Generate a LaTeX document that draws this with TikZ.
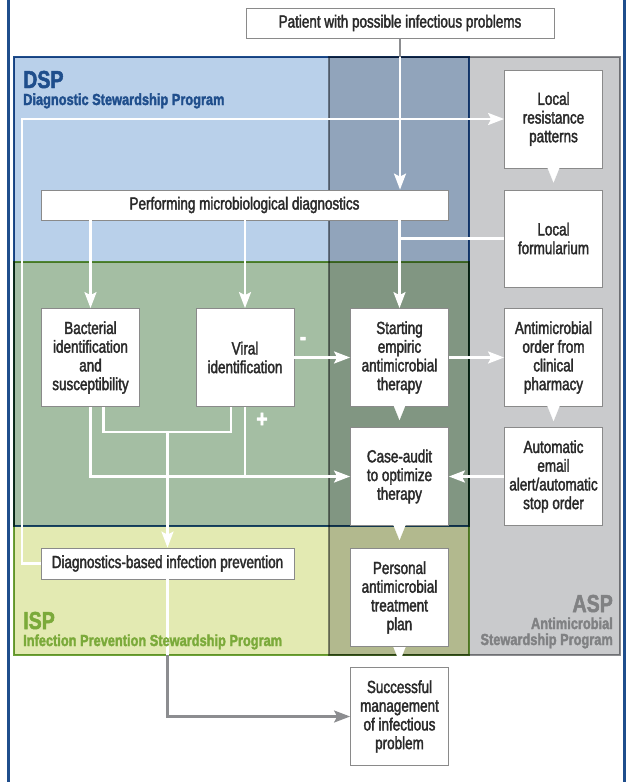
\documentclass[tikz,border=0pt]{standalone}
\usepackage{fontspec}
\setmainfont{Liberation Sans}[FakeStretch=0.77, FakeBold=2]
\newfontfamily\headfont{Liberation Sans}[FakeStretch=0.8, FakeBold=2]
\usetikzlibrary{arrows.meta}
\definecolor{dspfill}{HTML}{B9D0EA}
\definecolor{ispfill}{HTML}{E3EAB2}
\definecolor{aspfill}{HTML}{C9CACC}
\definecolor{dspline}{HTML}{1F4E8C}
\definecolor{ispline}{HTML}{6EA23A}
\definecolor{aspline}{HTML}{8C8D90}
\definecolor{boxline}{HTML}{8A8A8A}
\definecolor{boxtext}{HTML}{2A2A2A}
\definecolor{isptext}{HTML}{7BAA3A}
\definecolor{asptext}{HTML}{808183}
\begin{document}
\begin{tikzpicture}[x=1pt,y=-1pt]
\tikzstyle{box} = [draw=boxline, fill=white, line width=0.8pt, align=center, text=boxtext, inner sep=1pt, font=\fontsize{17.5}{18.7}\selectfont] % white box
\tikzstyle{smallbox} = [box, minimum width=98pt, minimum height=98pt] % square box
\tikzstyle{widebox} = [box, minimum height=30pt] % one-line box
\tikzstyle{conn} = [white, line width=2.2pt] % white connector
\tikzstyle{grayconn} = [aspline, line width=2.2pt] % connector outside the programs
\tikzstyle{arr} = [-{Stealth[length=16pt,width=12pt,inset=3pt]}]
\tikzstyle{pointer} = [white, line width=0.2pt, -{Triangle[length=15pt,width=12pt]}] % box pointer
\tikzstyle{sign} = [white, font=\headfont\bfseries\fontsize{24}{24}\selectfont, inner sep=0pt]
\tikzstyle{acro} = [anchor=base west, inner sep=0pt, font=\headfont\bfseries\fontsize{24.5}{24}\selectfont] % DSP, ISP, ASP
\tikzstyle{sub} = [anchor=base west, inner sep=0pt, font=\headfont\bfseries\fontsize{16}{16}\selectfont] % program name
\useasboundingbox (0,0) rectangle (627,782);
% outer frame
\draw[dspline, line width=2.5pt] (8.5,-5) rectangle (624.5,790);
% programs
\coordinate (dsp nw) at (14,57);  \coordinate (dsp se) at (469,526);
\coordinate (isp nw) at (14,262); \coordinate (isp se) at (469,655);
\coordinate (asp nw) at (329,57); \coordinate (asp se) at (620,655);
\coordinate (rail) at (22,0);
\coordinate (merge) at (167.5,432);
\begin{scope}[blend mode=multiply]
\fill[dspfill] (dsp nw) rectangle (dsp se);
\fill[ispfill] (isp nw) rectangle (isp se);
\fill[aspfill] (asp nw) rectangle (asp se);
\draw[aspline, line width=2.5pt] (asp nw) rectangle (asp se);
\draw[ispline, line width=2pt] (isp nw) rectangle (isp se);
\draw[dspline, line width=2pt] (dsp nw) rectangle (dsp se);
\end{scope}
% boxes
\node[widebox, minimum width=308pt] (patient) at (400,23) {Patient with possible infectious problems};
\node[widebox, minimum width=407pt] (perf) at (244.5,205) {Performing microbiological diagnostics};
\node[smallbox] (resist) at (553.5,119) {Local\\resistance\\patterns};
\node[smallbox, minimum height=97pt] (form) at (553.5,238.5) {Local\\formularium};
\node[smallbox] (bact) at (90.5,357.5) {Bacterial\\identification\\and\\susceptibility};
\node[smallbox] (viral) at (245,357.5) {Viral\\identification};
\node[smallbox] (start) at (399.5,357.5) {Starting\\empiric\\antimicrobial\\therapy};
\node[smallbox] (order) at (553.5,357.5) {Antimicrobial\\order from\\clinical\\pharmacy};
\node[smallbox] (audit) at (399.5,476.5) {Case-audit\\to optimize\\therapy};
\node[smallbox] (email) at (553.5,476.5) {Automatic\\email\\alert/automatic\\stop order};
\node[widebox, minimum width=253pt, minimum height=31pt] (prev) at (167.5,563.5) {Diagnostics-based infection prevention};
\node[smallbox] (personal) at (399.5,597.5) {Personal\\antimicrobial\\treatment\\plan};
\node[smallbox] (success) at (399.5,716.5) {Successful\\management\\of infectious\\problem};
% connectors
\draw[conn, arr] (patient.south |- dsp nw) -- (patient.south |- perf.north);
\draw[grayconn] (patient.south) -- (patient.south |- dsp nw);
\draw[conn, arr] (perf.south -| start.north) -- (start.north);
\draw[conn] (form.west) -- (form.west -| start.north);
\draw[conn, arr] (perf.south -| bact.north) -- (bact.north);
\draw[conn, arr] (perf.south -| viral.north) -- (viral.north);
\draw[conn, arr] (viral.east) -- (start.west);
\draw[conn, arr] (start.east) -- (order.west);
\draw[conn, arr] (email.west) -- (audit.east);
\draw[conn, arr] (bact.south) |- (audit.west);
\draw[conn] (viral.south) -- (viral.south |- audit.west);
\draw[conn] ([xshift=13pt]bact.south) |- (merge) -| ([xshift=-14pt]viral.south);
\draw[conn, arr] (merge) -- (merge |- prev.north);
\draw[conn, arr] (prev.west) -- (prev.west -| rail) |- (resist.west);
\draw[conn] (prev.south) -- (prev.south |- isp se);
\draw[grayconn, arr] (prev.south |- isp se) |- (success.west);
% pointers
\draw[pointer, shorten >=7pt] (resist) -- (form);
\draw[pointer, shorten >=7pt] (start) -- (audit);
\draw[pointer, shorten >=6pt] (order) -- (email);
\draw[pointer, shorten >=8pt] (audit) -- (personal);
\draw[pointer, shorten >=5pt] (personal) -- (success);
% signs
\node[sign] (minus) at (303,341) {-};
\node[sign] (plus) at (262,420) {+};
% program titles
\node[acro, dspline] (dsp title) at (23,88) {DSP};
\node[sub, dspline] (dsp name) at (23,105) {Diagnostic Stewardship Program};
\node[acro, isptext] (isp title) at (23,629) {ISP};
\node[sub, isptext] (isp name) at (23,646) {Infection Prevention Stewardship Program};
\node[acro, asptext, anchor=base east] (asp title) at (613,612) {ASP};
\node[sub, asptext, anchor=base east] (asp name) at (613,629) {Antimicrobial};
\node[sub, asptext, anchor=base east] (asp name2) at (613,645) {Stewardship Program};
\end{tikzpicture}
\end{document}
